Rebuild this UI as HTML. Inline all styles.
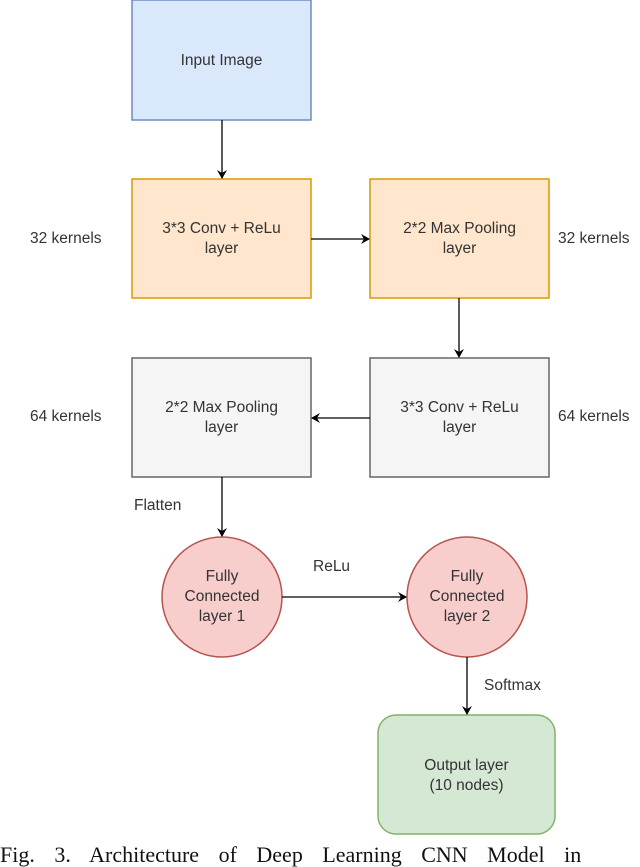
<!DOCTYPE html>
<html><head><meta charset="utf-8"><style>
html,body{margin:0;padding:0;background:#fff;}
body{width:640px;height:863px;position:relative;overflow:hidden;font-family:"Liberation Sans",sans-serif;}
.t{position:absolute;font-size:15.5px;color:#333;text-align:center;line-height:20px;}
.cap{position:absolute;left:0;top:843px;font-family:"Liberation Serif",serif;font-size:22px;color:#111;white-space:nowrap;word-spacing:14px;line-height:24px;}
</style></head><body>
<svg width="640" height="863" style="position:absolute;left:0;top:0">
<defs><marker id="a" markerWidth="10" markerHeight="10" refX="8" refY="5" orient="auto" markerUnits="userSpaceOnUse"><path d="M0,0 L9,5 L0,10 L3,5 Z" fill="#000"/></marker></defs>
<rect x="132" y="0" width="179" height="120" fill="#dae8fc" stroke="#6c8ebf" stroke-width="1.5"/>
<rect x="132" y="179" width="179" height="119" fill="#ffe6cc" stroke="#d79b00" stroke-width="1.5"/>
<rect x="370" y="179" width="179" height="119" fill="#ffe6cc" stroke="#d79b00" stroke-width="1.5"/>
<rect x="132" y="358" width="179" height="119" fill="#f5f5f5" stroke="#666" stroke-width="1.5"/>
<rect x="370" y="358" width="179" height="119" fill="#f5f5f5" stroke="#666" stroke-width="1.5"/>
<circle cx="222" cy="597" r="60" fill="#f8cecc" stroke="#b85450" stroke-width="1.5"/>
<circle cx="467" cy="597" r="60" fill="#f8cecc" stroke="#b85450" stroke-width="1.5"/>
<rect x="378" y="715" width="177" height="119" rx="18" fill="#d5e8d4" stroke="#82b366" stroke-width="1.5"/>
<g stroke="#000" stroke-width="1.3" fill="none">
<line x1="222" y1="120" x2="222" y2="178" marker-end="url(#a)"/>
<line x1="311" y1="239" x2="369" y2="239" marker-end="url(#a)"/>
<line x1="459" y1="298" x2="459" y2="357" marker-end="url(#a)"/>
<line x1="370" y1="418" x2="312" y2="418" marker-end="url(#a)"/>
<line x1="222" y1="477" x2="222" y2="536" marker-end="url(#a)"/>
<line x1="282" y1="597" x2="406" y2="597" marker-end="url(#a)"/>
<line x1="467" y1="657" x2="467" y2="714" marker-end="url(#a)"/>
</g>
</svg>
<div class="t" style="left:132px;top:51px;width:179px">Input Image</div>
<div class="t" style="left:132px;top:219px;width:179px">3*3 Conv + ReLu<br>layer</div>
<div class="t" style="left:370px;top:219px;width:179px">2*2 Max Pooling<br>layer</div>
<div class="t" style="left:132px;top:398px;width:179px">2*2 Max Pooling<br>layer</div>
<div class="t" style="left:370px;top:398px;width:179px">3*3 Conv + ReLu<br>layer</div>
<div class="t" style="left:162px;top:567px;width:120px">Fully<br>Connected<br>layer 1</div>
<div class="t" style="left:407px;top:567px;width:120px">Fully<br>Connected<br>layer 2</div>
<div class="t" style="left:378px;top:756px;width:177px">Output layer<br>(10 nodes)</div>
<div class="t" style="left:30px;top:229px;text-align:left">32 kernels</div>
<div class="t" style="left:558px;top:229px;text-align:left">32 kernels</div>
<div class="t" style="left:30px;top:407px;text-align:left">64 kernels</div>
<div class="t" style="left:558px;top:407px;text-align:left">64 kernels</div>
<div class="t" style="left:134px;top:496px;text-align:left">Flatten</div>
<div class="t" style="left:313px;top:557px;text-align:left">ReLu</div>
<div class="t" style="left:484px;top:676px;text-align:left">Softmax</div>
<div class="cap">Fig. 3. Architecture of Deep Learning CNN Model in</div>
</body></html>
